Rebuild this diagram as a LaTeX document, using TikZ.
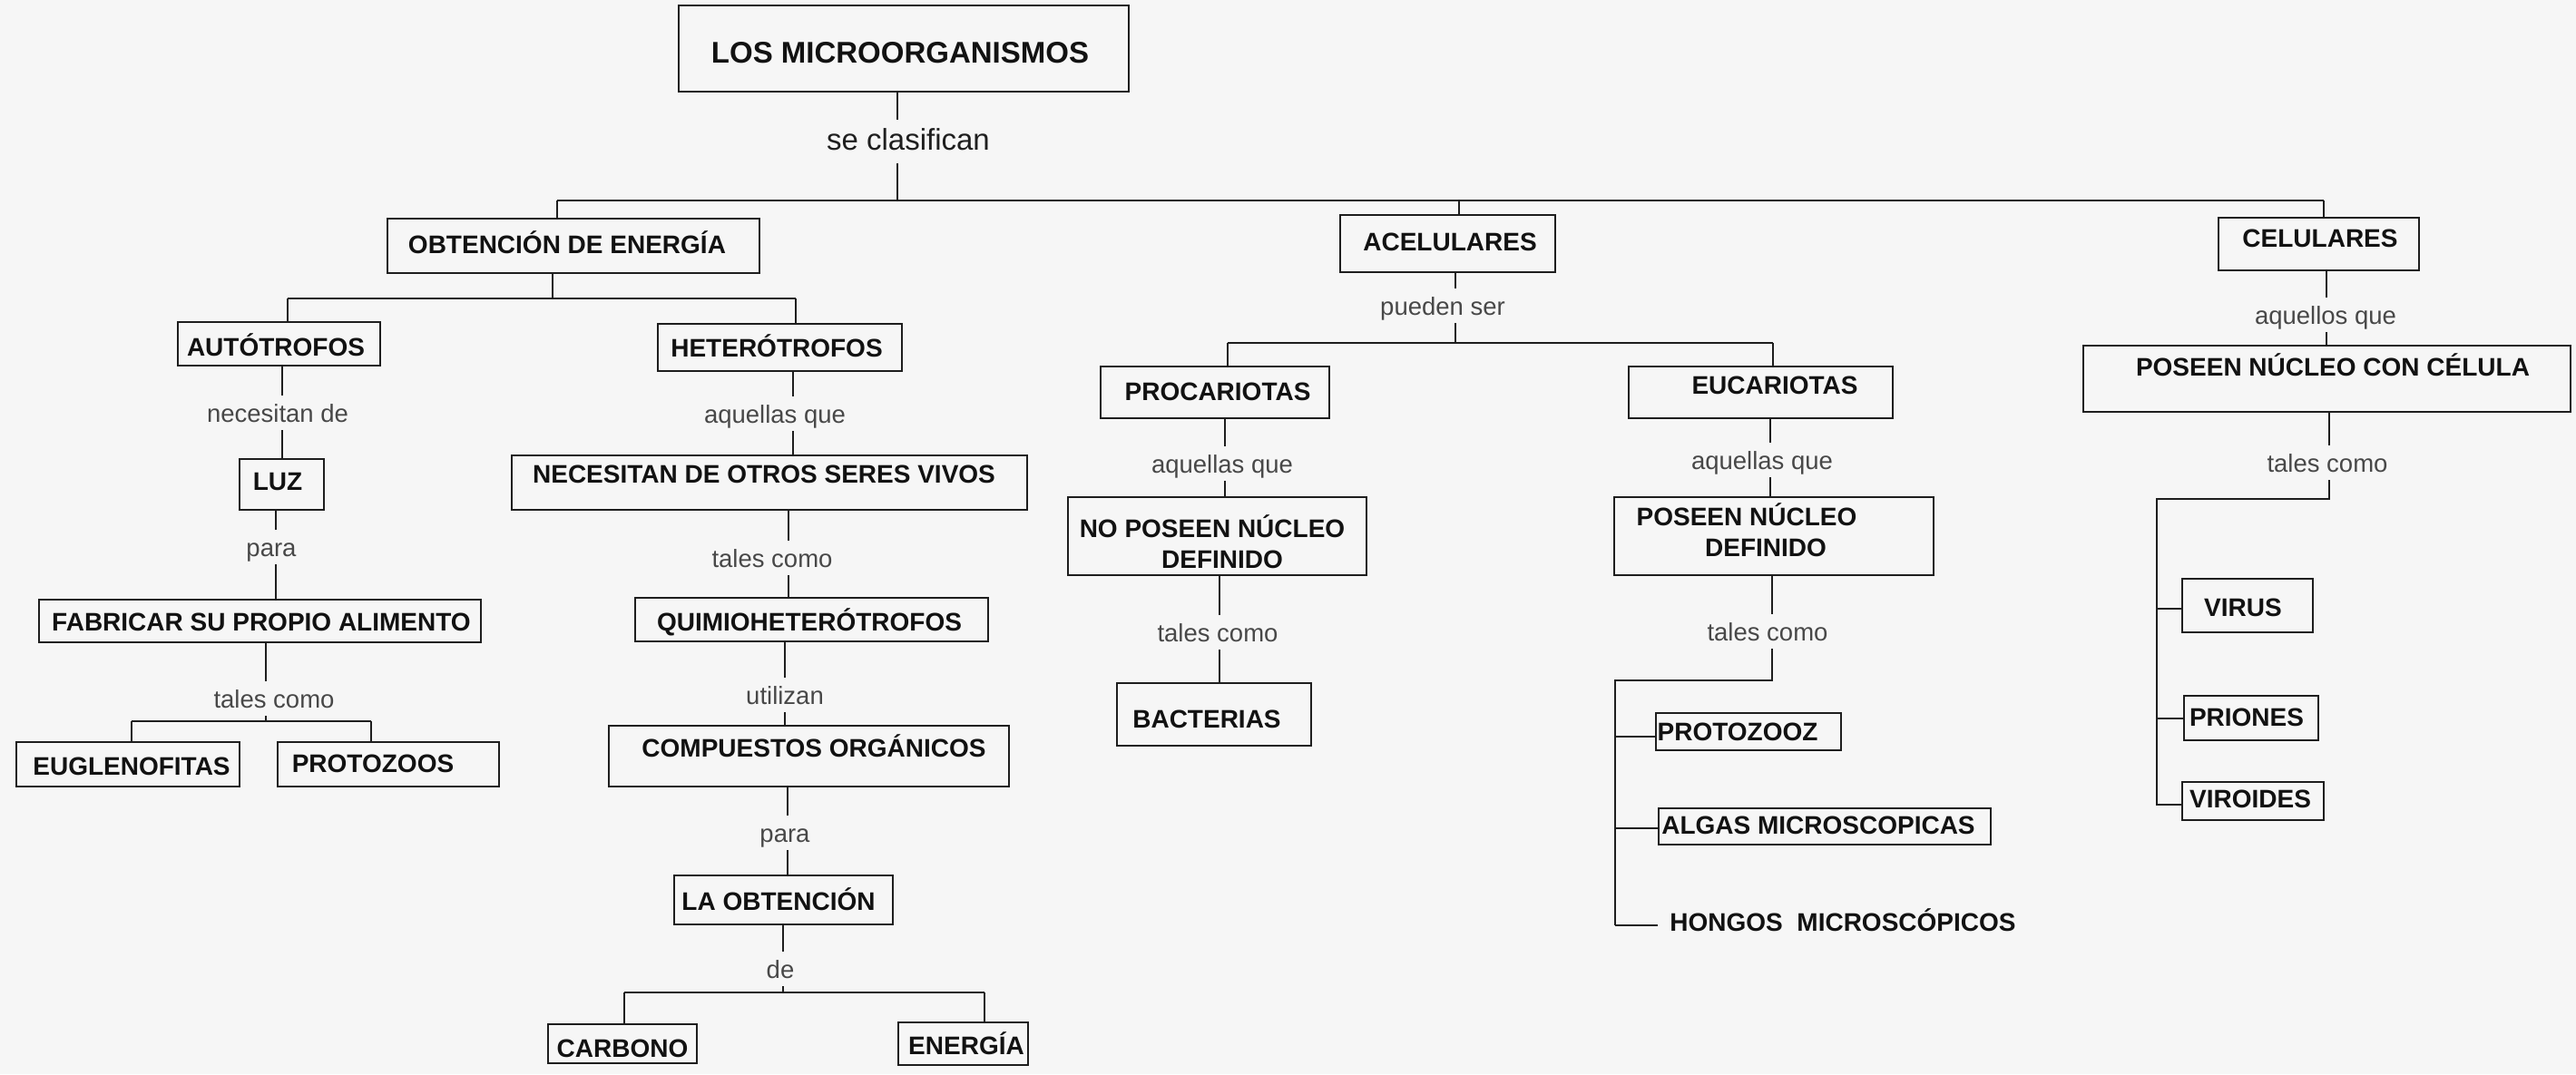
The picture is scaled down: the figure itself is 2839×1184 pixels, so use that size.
\documentclass[tikz,border=0pt]{standalone}
\usepackage{fontspec}
\setmainfont{Liberation Sans}
\definecolor{bgc}{HTML}{F6F6F6}
\definecolor{lbc}{HTML}{484848}
\definecolor{lnc}{HTML}{1E1E1E}
\definecolor{txc}{HTML}{121212}
\newcommand\mkbox[5]{\node[bx, minimum width={#4-#2}, minimum height={#5-#3}] (#1) at ({(#2+#4)/2},{(#3+#5)/2}) {};}
\begin{document}
\begin{tikzpicture}[x=1pt,y=-1pt,
  bx/.style={draw=lnc, line width=2.8pt, inner sep=0pt, outer sep=0pt},
  bt/.style={anchor=base, inner sep=0pt, font=\bfseries\fontsize{28}{30}\selectfont, text=txc},
  lb/.style={anchor=base, inner xsep=0pt, inner ysep=9pt, text height=20pt, text depth=0pt, font=\fontsize{27.5}{30}\selectfont, text=lbc},
  ln/.style={draw=lnc, line width=2.2pt}]
\fill[bgc] (0,0) rectangle (2839,1184);
\useasboundingbox (0,0) rectangle (2839,1184);

% ---------- title ----------
\mkbox{T}{748}{6}{1244}{101}
\node[bt,font=\bfseries\fontsize{33}{36}\selectfont] (tT) at (992,69) {LOS MICROORGANISMOS};
\node[lb,font=\fontsize{33}{36}\selectfont,text=black!88,text height=24pt,text depth=6pt] (Lsc) at (1001,165) {se clasifican};
\coordinate (j0) at (989,221);
\draw[ln] (T.south -| j0) -- (Lsc.north -| j0);
\draw[ln] (Lsc.south -| j0) -- (j0);

% ---------- level 1 ----------
\mkbox{OBT}{427}{241}{837}{301}
\node[bt] (tOBT) at (625,279) {OBTENCIÓN DE ENERGÍA};
\mkbox{ACE}{1477}{237}{1714}{300}
\node[bt] (tACE) at (1598,276) {ACELULARES};
\mkbox{CEL}{2445}{240}{2666}{298}
\node[bt] (tCEL) at (2557,272) {CELULARES};
\coordinate (jO) at (614,221);
\coordinate (jA) at (1608,221);
\coordinate (jC) at (2561,221);
\draw[ln] (jO) -- (jC);
\draw[ln] (jO) -- (OBT.north -| jO);
\draw[ln] (jA) -- (ACE.north -| jA);
\draw[ln] (jC) -- (CEL.north -| jC);

% ---------- obtencion de energia ----------
\mkbox{AUT}{196}{355}{419}{403}
\node[bt] (tAUT) at (304,392) {AUTÓTROFOS};
\mkbox{HET}{725}{357}{994}{409}
\node[bt] (tHET) at (856,393) {HETERÓTROFOS};
\coordinate (jO2) at (609,329);
\coordinate (jAu) at (317,329);
\coordinate (jHe) at (877,329);
\draw[ln] (OBT.south -| jO2) -- (jO2);
\draw[ln] (jAu) -- (jHe);
\draw[ln] (jAu) -- (AUT.north -| jAu);
\draw[ln] (jHe) -- (HET.north -| jHe);

% autotrofos chain
\coordinate (sA) at (311,0);
\node[lb] (Lnec) at (306,465) {necesitan de};
\mkbox{LUZ}{264}{506}{357}{562}
\node[bt] (tLUZ) at (306,540) {LUZ};
\draw[ln] (AUT.south -| sA) -- (Lnec.north -| sA);
\draw[ln] (Lnec.south -| sA) -- (LUZ.north -| sA);
\coordinate (sL) at (304,0);
\node[lb] (LparaA) at (299,613) {para};
\mkbox{FAB}{43}{661}{530}{708}
\node[bt] (tFAB) at (288,695) {FABRICAR SU PROPIO ALIMENTO};
\draw[ln] (LUZ.south -| sL) -- (LparaA.north -| sL);
\draw[ln] (LparaA.south -| sL) -- (FAB.north -| sL);
\coordinate (jF) at (293,795);
\node[lb] (LtalA) at (302,780) {tales como};
\draw[ln] (FAB.south -| jF) -- (LtalA.north -| jF);
\draw[ln] (LtalA.south -| jF) -- (jF);
\coordinate (jEu) at (145,795);
\coordinate (jPr) at (409,795);
\mkbox{EUG}{18}{818}{264}{867}
\node[bt] (tEUG) at (145,854) {EUGLENOFITAS};
\mkbox{PRO}{306}{818}{550}{867}
\node[bt] (tPRO) at (411,851) {PROTOZOOS};
\draw[ln] (jEu) -- (jPr);
\draw[ln] (jEu) -- (EUG.north -| jEu);
\draw[ln] (jPr) -- (PRO.north -| jPr);

% heterotrofos chain
\coordinate (sH) at (874,0);
\node[lb] (LaqH) at (854,466) {aquellas que};
\mkbox{NEC}{564}{502}{1132}{562}
\node[bt] (tNEC) at (842,532) {NECESITAN DE OTROS SERES VIVOS};
\draw[ln] (HET.south -| sH) -- (LaqH.north -| sH);
\draw[ln] (LaqH.south -| sH) -- (NEC.north -| sH);
\coordinate (sN) at (869,0);
\node[lb] (LtalH) at (851,625) {tales como};
\mkbox{QUI}{700}{659}{1089}{707}
\node[bt] (tQUI) at (892,695) {QUIMIOHETERÓTROFOS};
\draw[ln] (NEC.south -| sN) -- (LtalH.north -| sN);
\draw[ln] (LtalH.south -| sN) -- (QUI.north -| sN);
\coordinate (sQ) at (865,0);
\node[lb] (Luti) at (865,776) {utilizan};
\mkbox{COM}{671}{800}{1112}{867}
\node[bt] (tCOM) at (897,834) {COMPUESTOS ORGÁNICOS};
\draw[ln] (QUI.south -| sQ) -- (Luti.north -| sQ);
\draw[ln] (Luti.south -| sQ) -- (COM.north -| sQ);
\coordinate (sC) at (868,0);
\node[lb] (LparaH) at (865,928) {para};
\mkbox{LAO}{743}{965}{984}{1019}
\node[bt] (tLAO) at (858,1003) {LA OBTENCIÓN};
\draw[ln] (COM.south -| sC) -- (LparaH.north -| sC);
\draw[ln] (LparaH.south -| sC) -- (LAO.north -| sC);
\coordinate (jLa) at (863,1094);
\node[lb] (Lde) at (860,1078) {de};
\draw[ln] (LAO.south -| jLa) -- (Lde.north -| jLa);
\draw[ln] (Lde.south -| jLa) -- (jLa);
\coordinate (jCa) at (688,1094);
\coordinate (jEn) at (1085,1094);
\mkbox{CAR}{604}{1129}{768}{1172}
\node[bt] (tCAR) at (686,1165) {CARBONO};
\mkbox{ENE}{990}{1127}{1133}{1174}
\node[bt] (tENE) at (1065,1162) {ENERGÍA};
\draw[ln] (jCa) -- (jEn);
\draw[ln] (jCa) -- (CAR.north -| jCa);
\draw[ln] (jEn) -- (ENE.north -| jEn);

% ---------- acelulares ----------
\coordinate (jAc) at (1604,378);
\node[lb] (Lpue) at (1590,347) {pueden ser};
\draw[ln] (ACE.south -| jAc) -- (Lpue.north -| jAc);
\draw[ln] (Lpue.south -| jAc) -- (jAc);
\coordinate (jPc) at (1353,378);
\coordinate (jEc) at (1954,378);
\mkbox{PRC}{1213}{404}{1465}{461}
\node[bt] (tPRC) at (1342,441) {PROCARIOTAS};
\mkbox{EUC}{1795}{404}{2086}{461}
\node[bt] (tEUC) at (1956,434) {EUCARIOTAS};
\draw[ln] (jPc) -- (jEc);
\draw[ln] (jPc) -- (PRC.north -| jPc);
\draw[ln] (jEc) -- (EUC.north -| jEc);

% procariotas chain
\coordinate (sP) at (1350,0);
\node[lb] (LaqP) at (1347,521) {aquellas que};
\mkbox{NOP}{1177}{548}{1506}{634}
\node[bt] (tNOP1) at (1336,592) {NO POSEEN NÚCLEO};
\node[bt] (tNOP2) at (1347,626) {DEFINIDO};
\draw[ln] (PRC.south -| sP) -- (LaqP.north -| sP);
\draw[ln] (LaqP.south -| sP) -- (NOP.north -| sP);
\coordinate (sNP) at (1344,0);
\node[lb] (LtalP) at (1342,707) {tales como};
\mkbox{BAC}{1231}{753}{1445}{822}
\node[bt] (tBAC) at (1330,802) {BACTERIAS};
\draw[ln] (NOP.south -| sNP) -- (LtalP.north -| sNP);
\draw[ln] (LtalP.south -| sNP) -- (BAC.north -| sNP);

% eucariotas chain
\coordinate (sE) at (1951,0);
\node[lb] (LaqE) at (1942,517) {aquellas que};
\mkbox{POS}{1779}{548}{2131}{634}
\node[bt] (tPOS1) at (1925,579) {POSEEN NÚCLEO};
\node[bt] (tPOS2) at (1946,613) {DEFINIDO};
\draw[ln] (EUC.south -| sE) -- (LaqE.north -| sE);
\draw[ln] (LaqE.south -| sE) -- (POS.north -| sE);
\coordinate (jPD) at (1953,750);
\node[lb] (LtalE) at (1948,706) {tales como};
\coordinate (jPD2) at (1780,750);
\coordinate (jPz) at (1780,812);
\coordinate (jAl) at (1780,913);
\coordinate (jHo) at (1780,1020);
\mkbox{PZ}{1825}{786}{2029}{827}
\node[bt] (tPZ) at (1915,816) {PROTOZOOZ};
\mkbox{ALG}{1828}{891}{2194}{931}
\node[bt] (tALG) at (2004,919) {ALGAS MICROSCOPICAS};
\node[bt] (tHON) at (2031,1026) {HONGOS\ \ MICROSCÓPICOS};
\draw[ln] (POS.south -| jPD) -- (LtalE.north -| jPD);
\draw[ln] (LtalE.south -| jPD) -- (jPD) -- (jPD2) -- (jHo);
\draw[ln] (jPz) -- (PZ.west |- jPz);
\draw[ln] (jAl) -- (ALG.west |- jAl);
\draw[ln, shorten >=13pt] (jHo) -- (tHON.west |- jHo);

% ---------- celulares ----------
\coordinate (sCe) at (2564,0);
\node[lb] (LaqC) at (2563,357) {aquellos que};
\mkbox{PCC}{2296}{381}{2833}{454}
\node[bt] (tPCC) at (2571,414) {POSEEN NÚCLEO CON CÉLULA};
\draw[ln] (CEL.south -| sCe) -- (LaqC.north -| sCe);
\draw[ln] (LaqC.south -| sCe) -- (PCC.north -| sCe);
\coordinate (jPC) at (2567,550);
\node[lb] (LtalC) at (2565,520) {tales como};
\coordinate (jPC2) at (2377,550);
\coordinate (jVi) at (2377,671);
\coordinate (jPi) at (2377,792);
\coordinate (jVd) at (2377,887);
\mkbox{VIR}{2405}{638}{2549}{697}
\node[bt] (tVIR) at (2472,679) {VIRUS};
\mkbox{PRI}{2407}{767}{2555}{816}
\node[bt] (tPRI) at (2476,800) {PRIONES};
\mkbox{VID}{2405}{862}{2561}{904}
\node[bt] (tVID) at (2480,890) {VIROIDES};
\draw[ln] (PCC.south -| jPC) -- (LtalC.north -| jPC);
\draw[ln] (LtalC.south -| jPC) -- (jPC) -- (jPC2) -- (jVd) -- (VID.west |- jVd);
\draw[ln] (jVi) -- (VIR.west |- jVi);
\draw[ln] (jPi) -- (PRI.west |- jPi);
\end{tikzpicture}
\end{document}
